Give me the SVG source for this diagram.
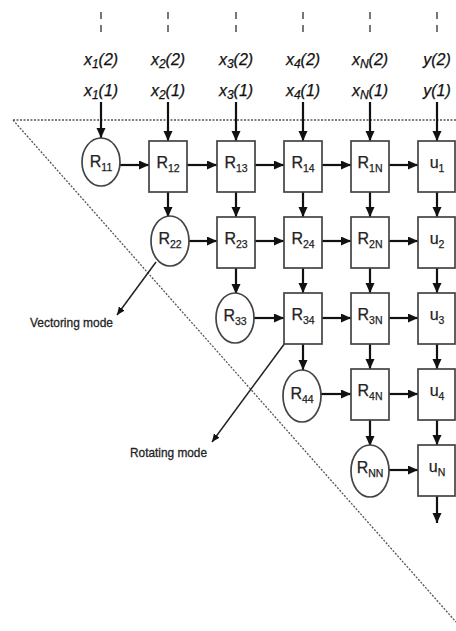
<svg xmlns="http://www.w3.org/2000/svg" width="456" height="631" viewBox="0 0 456 631">
<defs>
<marker id="ah" markerUnits="userSpaceOnUse" markerWidth="11" markerHeight="10" refX="10" refY="4.5" orient="auto">
<path d="M0,0 L10,4.5 L0,9 Z" fill="#111"/>
</marker>
<marker id="ahs" markerUnits="userSpaceOnUse" markerWidth="10" markerHeight="10" refX="8" refY="3.5" orient="auto">
<path d="M0,0 L8,3.5 L0,7 Z" fill="#111"/>
</marker>
<style>
.box{fill:#fff;stroke:#444;stroke-width:1.7}
.circ{fill:#fff;stroke:#444;stroke-width:1.7}
.lbl{font-family:"Liberation Sans",Arial,sans-serif;font-size:16px;fill:#222;stroke:#222;stroke-width:0.25;text-anchor:middle}
.in{font-family:"Liberation Sans",Arial,sans-serif;font-style:italic;font-size:16px;fill:#111;stroke:#111;stroke-width:0.25;text-anchor:middle}
.sub{font-size:10.5px}
.isub{font-size:12px}
.mode{font-family:"Liberation Sans",Arial,sans-serif;font-size:13.5px;fill:#222;stroke:#222;stroke-width:0.3}
.arr{stroke:#111;stroke-width:2.2;fill:none;marker-end:url(#ah)}
.thin{stroke:#222;stroke-width:1.5;fill:none;marker-end:url(#ahs)}
.dash{stroke:#555;stroke-width:1.6;stroke-dasharray:7 6}
.dot{stroke:#555;stroke-width:1.3;stroke-dasharray:2 1.5;fill:none}
</style>
</defs>
<rect width="456" height="631" fill="#fff"/>

<g id="guides">
<line class="dot" x1="13" y1="120" x2="456" y2="120"/>
<line class="dot" x1="13" y1="120" x2="456" y2="622"/>
</g>

<g id="inputs">
<line class="dash" x1="101" y1="12" x2="101" y2="34"/>
<line class="dash" x1="168" y1="12" x2="168" y2="34"/>
<line class="dash" x1="236" y1="12" x2="236" y2="34"/>
<line class="dash" x1="303" y1="12" x2="303" y2="34"/>
<line class="dash" x1="370" y1="12" x2="370" y2="34"/>
<line class="dash" x1="437" y1="12" x2="437" y2="34"/>
<text class="in" x="101" y="65">x<tspan class="isub" dy="3">1</tspan><tspan dy="-3">(2)</tspan></text>
<text class="in" x="168" y="65">x<tspan class="isub" dy="3">2</tspan><tspan dy="-3">(2)</tspan></text>
<text class="in" x="236" y="65">x<tspan class="isub" dy="3">3</tspan><tspan dy="-3">(2)</tspan></text>
<text class="in" x="303" y="65">x<tspan class="isub" dy="3">4</tspan><tspan dy="-3">(2)</tspan></text>
<text class="in" x="370" y="65">x<tspan class="isub" dy="3">N</tspan><tspan dy="-3">(2)</tspan></text>
<text class="in" x="437" y="65">y(2)</text>
<text class="in" x="101" y="96">x<tspan class="isub" dy="3">1</tspan><tspan dy="-3">(1)</tspan></text>
<text class="in" x="168" y="96">x<tspan class="isub" dy="3">2</tspan><tspan dy="-3">(1)</tspan></text>
<text class="in" x="236" y="96">x<tspan class="isub" dy="3">3</tspan><tspan dy="-3">(1)</tspan></text>
<text class="in" x="303" y="96">x<tspan class="isub" dy="3">4</tspan><tspan dy="-3">(1)</tspan></text>
<text class="in" x="370" y="96">x<tspan class="isub" dy="3">N</tspan><tspan dy="-3">(1)</tspan></text>
<text class="in" x="437" y="96">y(1)</text>
</g>

<g id="connectors">
<line class="arr" x1="101" y1="102" x2="101" y2="138"/>
<line class="arr" x1="168" y1="102" x2="168" y2="141"/>
<line class="arr" x1="236" y1="102" x2="236" y2="141"/>
<line class="arr" x1="303" y1="102" x2="303" y2="141"/>
<line class="arr" x1="370" y1="102" x2="370" y2="141"/>
<line class="arr" x1="437" y1="102" x2="437" y2="141"/>
<line class="arr" x1="120" y1="165" x2="149" y2="165"/>
<line class="arr" x1="187" y1="165" x2="217" y2="165"/>
<line class="arr" x1="255" y1="165" x2="284" y2="165"/>
<line class="arr" x1="322" y1="165" x2="351" y2="165"/>
<line class="arr" x1="389" y1="165" x2="418" y2="165"/>
<line class="arr" x1="189" y1="241" x2="217" y2="241"/>
<line class="arr" x1="255" y1="241" x2="284" y2="241"/>
<line class="arr" x1="322" y1="241" x2="351" y2="241"/>
<line class="arr" x1="389" y1="241" x2="418" y2="241"/>
<line class="arr" x1="254" y1="318" x2="284" y2="318"/>
<line class="arr" x1="322" y1="318" x2="351" y2="318"/>
<line class="arr" x1="389" y1="318" x2="418" y2="318"/>
<line class="arr" x1="321" y1="394" x2="351" y2="394"/>
<line class="arr" x1="389" y1="394" x2="418" y2="394"/>
<line class="arr" x1="389" y1="470" x2="418" y2="470"/>
<line class="arr" x1="168" y1="192" x2="168" y2="217"/>
<line class="arr" x1="236" y1="192" x2="236" y2="217"/>
<line class="arr" x1="236" y1="268" x2="236" y2="294"/>
<line class="arr" x1="303" y1="192" x2="303" y2="217"/>
<line class="arr" x1="303" y1="268" x2="303" y2="293"/>
<line class="arr" x1="303" y1="344" x2="303" y2="370"/>
<line class="arr" x1="370" y1="192" x2="370" y2="217"/>
<line class="arr" x1="370" y1="268" x2="370" y2="293"/>
<line class="arr" x1="370" y1="344" x2="370" y2="369"/>
<line class="arr" x1="370" y1="420" x2="370" y2="446"/>
<line class="arr" x1="437" y1="192" x2="437" y2="217"/>
<line class="arr" x1="437" y1="268" x2="437" y2="293"/>
<line class="arr" x1="437" y1="344" x2="437" y2="369"/>
<line class="arr" x1="437" y1="420" x2="437" y2="445"/>
<line class="arr" x1="437" y1="496" x2="437" y2="523"/>
<line class="thin" x1="156" y1="262" x2="117" y2="315"/>
<line class="thin" x1="285" y1="343" x2="212" y2="442"/>
</g>

<g id="R11"><ellipse class="circ" cx="101" cy="162" rx="19" ry="24"/><text class="lbl" x="101" y="167">R<tspan class="sub" dy="4">11</tspan></text></g>
<g id="R12"><rect class="box" x="149" y="141" width="38" height="51"/><text class="lbl" x="168" y="168">R<tspan class="sub" dy="4">12</tspan></text></g>
<g id="R13"><rect class="box" x="217" y="141" width="38" height="51"/><text class="lbl" x="236" y="168">R<tspan class="sub" dy="4">13</tspan></text></g>
<g id="R14"><rect class="box" x="284" y="141" width="38" height="51"/><text class="lbl" x="303" y="168">R<tspan class="sub" dy="4">14</tspan></text></g>
<g id="R1N"><rect class="box" x="351" y="141" width="38" height="51"/><text class="lbl" x="370" y="168">R<tspan class="sub" dy="4">1N</tspan></text></g>
<g id="u1"><rect class="box" x="418" y="141" width="37" height="51"/><text class="lbl" x="437" y="168">u<tspan class="sub" dy="4">1</tspan></text></g>

<g id="R22"><ellipse class="circ" cx="170" cy="241" rx="19" ry="25"/><text class="lbl" x="170" y="244">R<tspan class="sub" dy="4">22</tspan></text></g>
<g id="R23"><rect class="box" x="217" y="217" width="38" height="51"/><text class="lbl" x="236" y="244">R<tspan class="sub" dy="4">23</tspan></text></g>
<g id="R24"><rect class="box" x="284" y="217" width="38" height="51"/><text class="lbl" x="303" y="244">R<tspan class="sub" dy="4">24</tspan></text></g>
<g id="R2N"><rect class="box" x="351" y="217" width="38" height="51"/><text class="lbl" x="370" y="244">R<tspan class="sub" dy="4">2N</tspan></text></g>
<g id="u2"><rect class="box" x="418" y="217" width="37" height="51"/><text class="lbl" x="437" y="244">u<tspan class="sub" dy="4">2</tspan></text></g>

<g id="R33"><ellipse class="circ" cx="235" cy="318" rx="19" ry="25"/><text class="lbl" x="235" y="321">R<tspan class="sub" dy="4">33</tspan></text></g>
<g id="R34"><rect class="box" x="284" y="293" width="38" height="51"/><text class="lbl" x="303" y="320">R<tspan class="sub" dy="4">34</tspan></text></g>
<g id="R3N"><rect class="box" x="351" y="293" width="38" height="51"/><text class="lbl" x="370" y="320">R<tspan class="sub" dy="4">3N</tspan></text></g>
<g id="u3"><rect class="box" x="418" y="293" width="37" height="51"/><text class="lbl" x="437" y="320">u<tspan class="sub" dy="4">3</tspan></text></g>

<g id="R44"><ellipse class="circ" cx="302" cy="396" rx="19" ry="26"/><text class="lbl" x="302" y="399">R<tspan class="sub" dy="4">44</tspan></text></g>
<g id="R4N"><rect class="box" x="351" y="369" width="38" height="51"/><text class="lbl" x="370" y="396">R<tspan class="sub" dy="4">4N</tspan></text></g>
<g id="u4"><rect class="box" x="418" y="369" width="37" height="51"/><text class="lbl" x="437" y="396">u<tspan class="sub" dy="4">4</tspan></text></g>

<g id="RNN"><ellipse class="circ" cx="370" cy="471" rx="19" ry="26"/><text class="lbl" x="370" y="473">R<tspan class="sub" dy="4">NN</tspan></text></g>
<g id="uN"><rect class="box" x="418" y="445" width="37" height="51"/><text class="lbl" x="437" y="472">u<tspan class="sub" dy="4">N</tspan></text></g>

<g id="vectoring-label"><text class="mode" x="30" y="327" textLength="83" lengthAdjust="spacingAndGlyphs">Vectoring mode</text></g>
<g id="rotating-label"><text class="mode" x="130" y="457" textLength="77" lengthAdjust="spacingAndGlyphs">Rotating mode</text></g>
</svg>
